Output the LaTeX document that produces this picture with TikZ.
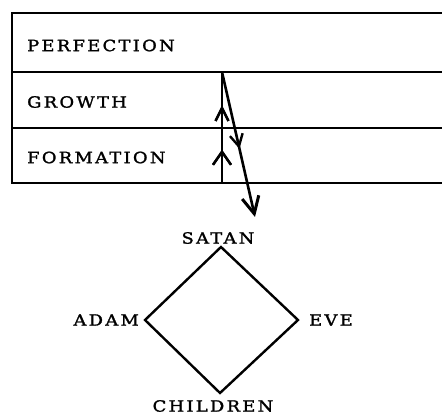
\documentclass[tikz,border=0pt]{standalone}
\usepackage{fontspec}
\setmainfont{DejaVu Serif}[LetterSpace=15, FakeStretch=1.15, FakeBold=1.6]
\usetikzlibrary{arrows.meta,positioning,decorations.markings}

\begin{document}
\begin{tikzpicture}[x=1pt, y=-1pt,
    rule/.style={line width=2.4pt},
    lbl/.style={font=\fontsize{15.5}{17}\selectfont, inner sep=0pt},
    rowlbl/.style={lbl, anchor=west},
    edge/.style={line width=2.4pt, line join=miter},
    chevron/.style n args={3}{postaction={decorate},
      decoration={markings, mark=at position #1 with {\arrow{Straight Barb[length=#2, width=#3, line width=2.4pt]}}}},
    pointer/.style={line width=2.6pt, -{Straight Barb[length=17pt, width=17pt, line width=3pt]}}
  ]
    \useasboundingbox (0,0) rectangle (442,414);
    % stages
    \draw[rule] (442,13) -- (12,13) -- (12,183) -- (442,183);
    \draw[rule] (12,72) -- (442,72);
    \draw[rule] (12,128) -- (442,128);
    \node[rowlbl] (perfection) at (27,45.5) {PERFECTION};
    \node[rowlbl] (growth) at (27,102) {GROWTH};
    \node[rowlbl] (formation) at (27,157.5) {FORMATION};
    % fall
    \coordinate (base) at (222,183);
    \coordinate (turn) at (222,72);
    \coordinate (tip) at (255,217);
    \draw[edge, chevron={0.3}{13pt}{18pt}, chevron={0.7}{13pt}{13pt}] (base) -- (turn);
    \draw[pointer, chevron={0.53}{12pt}{13pt}] (turn) -- (tip);
    % family
    \coordinate (top) at (221,247);
    \coordinate (left) at (145,320);
    \coordinate (right) at (298,320);
    \coordinate (bottom) at (220,393);
    \draw[edge] (top) -- (right) -- (bottom) -- (left) -- cycle;
    \node[lbl] (satan) at (218,238) {SATAN};
    \node[lbl, left=6pt of left] (adam) {ADAM};
    \node[lbl, right=11pt of right] (eve) {EVE};
    \node[lbl] (children) at (213,406) {CHILDREN};
\end{tikzpicture}
\end{document}
